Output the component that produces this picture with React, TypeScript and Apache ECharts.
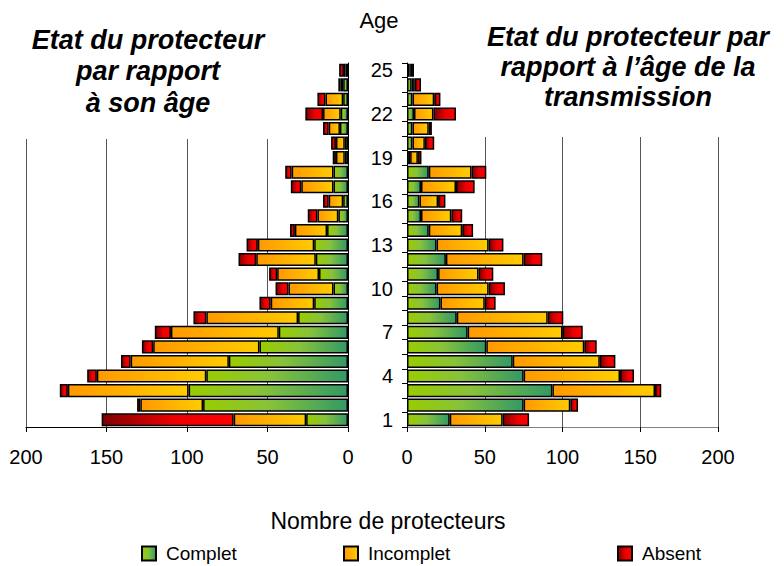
import { useEffect, useRef } from 'react';
import * as echarts from 'echarts';

const ages = ['1','2','3','4','5','6','7','8','9','10','11','12','13','14','15','16','17','18','19','20','21','22','23','24','25'];
const xTicks = [0, 50, 100, 150, 200];

// Left: état du protecteur par rapport à son âge
const leftComplet = [26, 90, 99, 88, 74, 55, 43, 31, 21, 9, 18, 20, 21, 13, 6, 3, 9, 9, 2, 2, 5, 4.5, 3, 3, 1.5];
const leftIncomplet = [45, 39, 75, 68, 61, 66, 67, 57, 27, 28, 26, 37, 35, 20, 13, 9, 20, 26, 5.5, 5.5, 7, 11, 11, 1.5, 1];
const leftAbsent = [82, 2, 5, 6, 6, 7, 10, 8, 7, 8, 5, 11, 7, 3, 6, 3.5, 6.5, 4, 2, 3, 3.5, 11, 5, 1.5, 3];

// Right: état du protecteur par rapport à l'âge de la transmission
const rightComplet = [27.5, 75, 93.5, 75, 68, 51, 39, 32, 21.5, 19, 20, 25, 19, 14, 9, 8, 9, 14, 2, 3.5, 3.5, 4.5, 3.5, 3, 1.5];
const rightIncomplet = [34, 30, 66, 62, 56, 63, 61, 58.5, 28.5, 33.5, 26, 50, 33.5, 21.5, 19.5, 12, 22.5, 27.5, 5, 8, 10.5, 12.5, 14, 2, 1];
const rightAbsent = [17, 5, 4, 9, 10, 8, 13, 10, 7, 10.5, 9.5, 12, 9.5, 7, 7, 4.7, 12, 9.5, 2.3, 6, 2, 14.5, 4, 4, 2];

const FONT = '"Liberation Sans", Arial, sans-serif';

const grad = (stops: [number, string][]) => ({
  type: 'linear', x: 0, y: 0, x2: 1, y2: 0,
  colorStops: stops.map(([offset, color]) => ({ offset, color })),
});
const greenGrad = grad([[0, '#99cc00'], [0.45, '#88c23a'], [1, '#339966']]);
const orangeGrad = grad([[0, '#ff9900'], [1, '#ffcc00']]);
const redGrad = grad([[0, '#800000'], [0.55, '#ee0000'], [1, '#ff0000']]);

export default function App() {
  const ref = useRef<HTMLDivElement>(null);
  useEffect(() => {
    document.body.style.margin = '0';
    const chart = echarts.init(ref.current!, null, { renderer: 'svg' });

    const xAxisBase = (gridIndex: number, inverse: boolean, lineColor: string) => ({
      gridIndex,
      type: 'value',
      min: xTicks[0],
      max: xTicks[xTicks.length - 1],
      interval: xTicks[1] - xTicks[0],
      inverse,
      axisLine: { show: true, lineStyle: { color: lineColor, width: 1 } },
      axisTick: { show: true, length: 5, lineStyle: { color: '#000' } },
      axisLabel: { margin: 20, fontSize: 20, color: '#000', fontFamily: FONT },
      splitLine: { show: true, lineStyle: { color: '#555', width: 1 } },
    });

    const bar = (name: string, data: number[], idx: number, color: any) => ({
      name,
      type: 'bar',
      stack: 'g' + idx,
      xAxisIndex: idx,
      yAxisIndex: idx,
      data,
      barCategoryGap: '10%',
      itemStyle: { color, borderColor: '#000', borderWidth: 1.5 },
      emphasis: { disabled: true },
    });

    const legendBase = (name: string, left: number) => ({
      data: [name],
      left,
      top: 544,
      icon: 'rect',
      itemWidth: 14,
      itemHeight: 14,
      padding: 0,
      textStyle: { fontSize: 19, color: '#000', fontFamily: FONT, padding: [0, 0, 0, 5] },
    });

    chart.setOption({
      animation: false,
      backgroundColor: '#fff',
      textStyle: { fontFamily: FONT },
      grid: [
        { left: 26, top: 63, width: 322, height: 364 },
        { left: 407, top: 63, width: 311, height: 364 },
      ],
      xAxis: [xAxisBase(0, true, '#000'), xAxisBase(1, false, '#808080')],
      yAxis: [
        {
          gridIndex: 0, type: 'category', data: ages, position: 'right',
          axisLine: { show: true, lineStyle: { color: '#000' } },
          axisTick: { show: false }, axisLabel: { show: false },
        },
        {
          gridIndex: 1, type: 'category', data: ages, position: 'left',
          axisLine: { show: true, lineStyle: { color: '#000' } },
          axisTick: { show: true, interval: 0, length: 5, lineStyle: { color: '#000' } },
          axisLabel: { interval: 2, margin: 14, fontSize: 20, color: '#000', fontFamily: FONT },
        },
      ],
      legend: [
        legendBase('Complet', 141),
        legendBase('Incomplet', 343),
        legendBase('Absent', 617),
      ],
      series: [
        bar('Complet', leftComplet, 0, greenGrad),
        bar('Incomplet', leftIncomplet, 0, orangeGrad),
        bar('Absent', leftAbsent, 0, redGrad),
        bar('Complet', rightComplet, 1, greenGrad),
        bar('Incomplet', rightIncomplet, 1, orangeGrad),
        bar('Absent', rightAbsent, 1, redGrad),
      ],
      graphic: [
        { type: 'rect', silent: true, z: 10, shape: { x: 0, y: 0, width: 300, height: 139 }, style: { fill: '#fff' } },
        { type: 'rect', silent: true, z: 10, shape: { x: 470, y: 0, width: 314, height: 137 }, style: { fill: '#fff' } },
        {
          type: 'text', z: 20, x: 148, y: 24,
          style: {
            text: 'Etat du protecteur\npar rapport\nà son âge',
            fontFamily: FONT, fontSize: 27, fontWeight: 'bold', fontStyle: 'italic',
            lineHeight: 31.5, align: 'center', verticalAlign: 'top', fill: '#000',
          },
        },
        {
          type: 'text', z: 20, x: 628, y: 22,
          style: {
            text: 'Etat du protecteur par\nrapport à l’âge de la\ntransmission',
            fontFamily: FONT, fontSize: 27, fontWeight: 'bold', fontStyle: 'italic',
            lineHeight: 30, align: 'center', verticalAlign: 'top', fill: '#000',
          },
        },
        {
          type: 'text', z: 20, x: 379, y: 20,
          style: { text: 'Age', fontFamily: FONT, fontSize: 22, align: 'center', verticalAlign: 'middle', fill: '#000' },
        },
        {
          type: 'text', z: 20, x: 388, y: 521,
          style: { text: 'Nombre de protecteurs', fontFamily: FONT, fontSize: 23, align: 'center', verticalAlign: 'middle', fill: '#000' },
        },
      ],
    });
    return () => chart.dispose();
  }, []);
  return <div ref={ref} style={{ width: 784, height: 566 }} />;
}
